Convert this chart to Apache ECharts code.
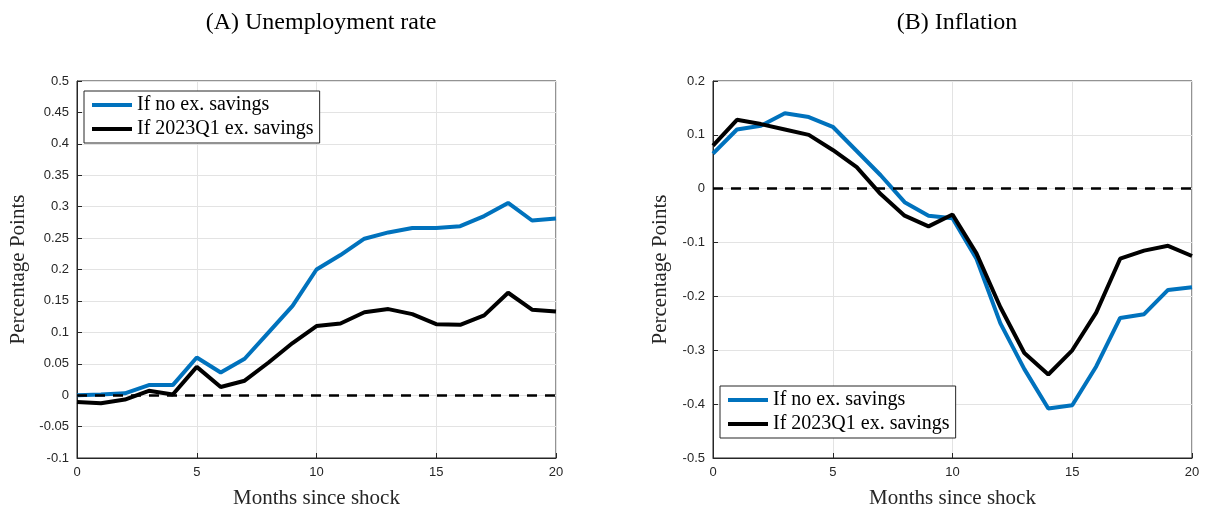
<!DOCTYPE html>
<html><head><meta charset="utf-8">
<script src="https://cdn.jsdelivr.net/npm/echarts@6/dist/echarts.min.js"></script>
<style>body{margin:0;background:#fff}#c{width:1210px;height:510px}</style>
</head><body><div id="c"></div>
<script>
const months = [0,1,2,3,4,5,6,7,8,9,10,11,12,13,14,15,16,17,18,19,20];
const unempNoSav = [0,0.001,0.003,0.016,0.016,0.06,0.036,0.058,0.1,0.142,0.2,0.223,0.249,0.259,0.266,0.266,0.269,0.285,0.306,0.278,0.281];
const unempSav = [-0.011,-0.013,-0.007,0.007,0.001,0.045,0.013,0.023,0.052,0.083,0.11,0.114,0.132,0.137,0.129,0.113,0.112,0.127,0.163,0.136,0.133];
const inflNoSav = [0.065,0.11,0.117,0.14,0.133,0.115,0.07,0.025,-0.025,-0.05,-0.055,-0.13,-0.25,-0.335,-0.408,-0.402,-0.33,-0.24,-0.233,-0.188,-0.183];
const inflSav = [0.08,0.128,0.12,0.11,0.1,0.072,0.04,-0.01,-0.05,-0.07,-0.048,-0.12,-0.22,-0.305,-0.345,-0.3,-0.23,-0.13,-0.115,-0.106,-0.125];
const names = ['If no ex. savings','If 2023Q1 ex. savings'];
const F = 'Liberation Serif', S = 'Liberation Sans';
const pair = a => months.map((m,i)=>[m,a[i]]);
const ax = (o)=>Object.assign({axisLine:{show:true,onZero:false,lineStyle:{color:'#262626'}},axisTick:{show:true,inside:true,length:5,lineStyle:{color:'#262626'}},
  axisLabel:{color:'#262626',fontFamily:S,fontSize:13},splitLine:{show:true,lineStyle:{color:'#e3e3e3'}},nameTextStyle:{fontFamily:F,fontSize:21,color:'#262626'}},o);
const chart = echarts.init(document.getElementById('c'));
const grids=[{left:77,top:81,width:479,height:377},{left:713,top:81,width:479,height:377}];
const series=[];
[[unempNoSav,unempSav],[inflNoSav,inflSav]].forEach((d,g)=>{
  series.push({name:names[0],type:'line',xAxisIndex:g,yAxisIndex:g,data:pair(d[0]),showSymbol:false,lineStyle:{color:'#0072BD',width:4},itemStyle:{color:'#0072BD'},
    markLine:{silent:true,symbol:'none',label:{show:false},lineStyle:{color:'#000',type:[10,8],width:2.5},data:[{yAxis:0}]}});
  series.push({name:names[1],type:'line',xAxisIndex:g,yAxisIndex:g,data:pair(d[1]),showSymbol:false,lineStyle:{color:'#000',width:4},itemStyle:{color:'#000'}});
});
const lg = (l,t)=>({data:names,left:l,top:t,orient:'vertical',itemWidth:40,itemGap:4,backgroundColor:'#fff',borderColor:'#262626',borderWidth:1,padding:[4,6,4,8],textStyle:{fontFamily:F,fontSize:20,color:'#000'},icon:'rect',itemHeight:4});
chart.setOption({animation:false,
  title:[{text:'(A) Unemployment rate',left:316,top:6,textAlign:'center',textStyle:{fontFamily:F,fontSize:24,fontWeight:'normal',color:'#000'}},
         {text:'(B) Inflation',left:952,top:6,textAlign:'center',textStyle:{fontFamily:F,fontSize:24,fontWeight:'normal',color:'#000'}}],
  grid:grids.map(g=>Object.assign({show:true,borderColor:'#262626',borderWidth:1,backgroundColor:'#fff',containLabel:false,outerBoundsMode:'none'},g)),
  legend:[lg(84,91),lg(720,386)],
  xAxis:[0,1].map(g=>ax({type:'value',gridIndex:g,min:0,max:20,interval:5,name:'Months since shock',nameLocation:'middle',nameGap:30})),
  yAxis:[ax({type:'value',gridIndex:0,min:-0.1,max:0.5,interval:0.05,name:'Percentage Points',nameLocation:'middle',nameGap:48,axisLabel:{color:'#262626',fontFamily:S,fontSize:13,formatter:v=>+v.toFixed(2)+''}}),
         ax({type:'value',gridIndex:1,min:-0.5,max:0.2,interval:0.1,name:'Percentage Points',nameLocation:'middle',nameGap:42,axisLabel:{color:'#262626',fontFamily:S,fontSize:13,formatter:v=>+v.toFixed(1)+''}})],
  series
});
</script></body></html>
